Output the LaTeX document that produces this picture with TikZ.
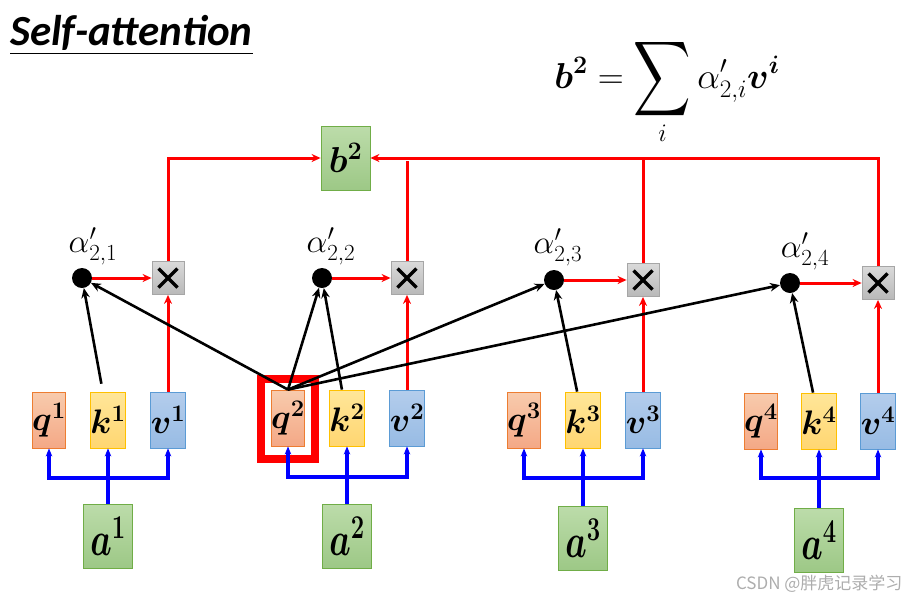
\documentclass[tikz,border=0pt]{standalone}
\usepackage{fix-cm}
\usepackage{exscale}
\usepackage{amsmath}
\usepackage{fontspec}
\setsansfont{Carlito}
\newfontfamily\cjkfont{Noto Sans CJK SC}
\usetikzlibrary{arrows.meta, positioning}

\definecolor{qtop}{HTML}{F8CBAD}
\definecolor{qbot}{HTML}{F4A886}
\definecolor{qline}{HTML}{ED7D31}
\definecolor{ktop}{HTML}{FFE699}
\definecolor{kbot}{HTML}{FFD671}
\definecolor{kline}{HTML}{FFC000}
\definecolor{vtop}{HTML}{B4CDEC}
\definecolor{vbot}{HTML}{97BBE4}
\definecolor{vline}{HTML}{5B9BD5}
\definecolor{gtop}{HTML}{BCDCAA}
\definecolor{gbot}{HTML}{9DC886}
\definecolor{gline}{HTML}{70AD47}
\definecolor{mtop}{HTML}{D9D9D9}
\definecolor{mbot}{HTML}{B8B8B8}
\definecolor{mline}{HTML}{A6A6A6}

\tikzset{
	box/.style={inner sep=0pt, line width=0.8pt},
	qbox/.style={box, draw=qline, top color=qtop, bottom color=qbot, minimum width=30pt, minimum height=56pt},
	kbox/.style={box, draw=kline, top color=ktop, bottom color=kbot, minimum width=30pt, minimum height=56pt},
	vbox/.style={box, draw=vline, top color=vtop, bottom color=vbot, minimum width=30pt, minimum height=56pt},
	gbox/.style={box, draw=gline, top color=gtop, bottom color=gbot, minimum width=49pt, minimum height=64pt},
	mbox/.style={box, draw=mline, top color=mtop, bottom color=mbot, minimum width=32pt, minimum height=33pt,
		path picture={
			\draw[black, line width=3.4pt] ([shift={(-9.5pt,-9.5pt)}]path picture bounding box.center) -- ([shift={(9.5pt,9.5pt)}]path picture bounding box.center);
			\draw[black, line width=3.4pt] ([shift={(-9.5pt,9.5pt)}]path picture bounding box.center) -- ([shift={(9.5pt,-9.5pt)}]path picture bounding box.center);
		}},
	dot/.style={circle, fill=black, inner sep=0pt, minimum size=20pt},
	redarr/.style={red, line width=3pt, -{Stealth[length=9pt,width=8pt]}},
	redline/.style={red, line width=3pt},
	blackarr/.style={black, line width=2.6pt, -{Stealth[length=10pt,width=8.5pt]}},
	bluearr/.style={blue, line width=3.2pt, -{Stealth[length=8pt,width=6.5pt]}},
	bluebus/.style={blue, line width=3.2pt, {Stealth[length=8pt,width=6.5pt]}-{Stealth[length=8pt,width=6.5pt]}}
}

\newcommand{\qkvfont}{\fontsize{34}{36}\selectfont}
\newcommand{\alfont}{\fontsize{33}{35}\selectfont}
\newcommand{\bigsum}{\mathop{\vcenter{\hbox{\scalebox{1.6}[2.1]{$\displaystyle\sum$}}}}\limits}

\begin{document}
\begin{tikzpicture}[x=1pt,y=-1pt]
	\useasboundingbox (0,0) rectangle (920,603);

	\node[anchor=base west, inner sep=0pt, font=\sffamily\bfseries\itshape\fontsize{43}{46}\selectfont] (title) at (10,45) {\underline{Self-attention}};
	\node[inner sep=0pt, font=\fontsize{36}{40}\selectfont] (sum) at (667,91) {$\displaystyle \boldsymbol{b^2}=\bigsum_i\alpha'_{2,i}\boldsymbol{v^i}$};

	\node[gbox, font=\fontsize{36}{38}\selectfont] (b2) at (345.5,158) {$\boldsymbol{b^2}$};

	% weights and products
	\node[dot] (d1) at (82,278) {};
	\node[dot] (d2) at (322,278) {};
	\node[dot] (d3) at (554,280) {};
	\node[dot] (d4) at (790,283) {};
	\node[font=\alfont] (l1) at (93,246) {$\alpha'_{2,1}$};
	\node[font=\alfont] (l2) at (331,246) {$\alpha'_{2,2}$};
	\node[font=\alfont] (l3) at (558,247) {$\alpha'_{2,3}$};
	\node[font=\alfont] (l4) at (805,251) {$\alpha'_{2,4}$};
	\node[mbox] (m1) at (168,278) {};
	\node[mbox] (m2) at (407,278) {};
	\node[mbox] (m3) at (643,280) {};
	\node[mbox] (m4) at (878,283) {};

	% q k v
	\node[qbox, font=\qkvfont] (q1) at (49,420) {$\boldsymbol{q^1}$};
	\node[kbox, font=\qkvfont] (k1) at (108,420) {$\boldsymbol{k^1}$};
	\node[vbox, font=\qkvfont] (v1) at (168,420) {$\boldsymbol{v^1}$};
	\node[qbox, font=\qkvfont] (q2) at (288,418) {$\boldsymbol{q^2}$};
	\node[kbox, font=\qkvfont] (k2) at (347,418) {$\boldsymbol{k^2}$};
	\node[vbox, font=\qkvfont] (v2) at (407,418) {$\boldsymbol{v^2}$};
	\node[qbox, font=\qkvfont] (q3) at (524,420) {$\boldsymbol{q^3}$};
	\node[kbox, font=\qkvfont] (k3) at (583,420) {$\boldsymbol{k^3}$};
	\node[vbox, font=\qkvfont] (v3) at (643,420) {$\boldsymbol{v^3}$};
	\node[qbox, font=\qkvfont] (q4) at (761,421) {$\boldsymbol{q^4}$};
	\node[kbox, font=\qkvfont] (k4) at (819,421) {$\boldsymbol{k^4}$};
	\node[vbox, font=\qkvfont] (v4) at (878,421) {$\boldsymbol{v^4}$};
	\node[draw=red, line width=7.5pt, minimum width=54pt, minimum height=80pt, inner sep=0pt] (hl) at (288,419) {};

	% inputs
	\node[gbox, font=\fontsize{34}{36}\selectfont] (a1) at (108,536) {\scalebox{1}[1.4]{$\boldsymbol{a^1}$}};
	\node[gbox, font=\fontsize{34}{36}\selectfont] (a2) at (347,536) {\scalebox{1}[1.4]{$\boldsymbol{a^2}$}};
	\node[gbox, font=\fontsize{34}{36}\selectfont] (a3) at (583,538) {\scalebox{1}[1.4]{$\boldsymbol{a^3}$}};
	\node[gbox, font=\fontsize{34}{36}\selectfont] (a4) at (819,540) {\scalebox{1}[1.4]{$\boldsymbol{a^4}$}};
	\coordinate (j1) at (108,478);
	\coordinate (j2) at (347,477);
	\coordinate (j3) at (583,478);
	\coordinate (j4) at (819,478);
	\coordinate (m2top) at (407,161);

	\node[anchor=east, text=black!32, font=\cjkfont\fontsize{17}{18}\selectfont] (mark) at (906,584) {CSDN @胖虎记录学习};

	% blue
	\draw[bluearr] (a1) -- (k1);
	\draw[bluearr] (a2) -- (k2);
	\draw[bluearr] (a3) -- (k3);
	\draw[bluearr] (a4) -- (k4);
	\draw[bluebus] (q1.south) |- (j1) -| (v1.south);
	\draw[bluebus] (q2.south) |- (j2) -| (v2.south);
	\draw[bluebus] (q3.south) |- (j3) -| (v3.south);
	\draw[bluebus] (q4.south) |- (j4) -| (v4.south);

	% red
	\draw[redarr] (d1) -- (m1);
	\draw[redarr] (d2) -- (m2);
	\draw[redarr] (d3) -- (m3);
	\draw[redarr] (d4) -- (m4);
	\draw[redarr] (v1) -- (m1);
	\draw[redarr] (v2) -- (m2);
	\draw[redarr] (v3) -- (m3);
	\draw[redarr] (v4) -- (m4);
	\draw[redarr] (m1) |- (b2);
	\draw[redarr] (m4) |- (b2);
	\draw[redline] (m3) -- (m3 |- b2);
	\draw[redline] (m2) -- (m2top);

	% black
	\draw[blackarr, shorten <=8pt] (k1) -- (d1);
	\draw[blackarr] (q2.north) -- (d1);
	\draw[blackarr] (q2.north) -- (d2);
	\draw[blackarr] (k2) -- (d2);
	\draw[blackarr] (q2.north) -- (d3);
	\draw[blackarr] (k3) -- (d3);
	\draw[blackarr] (q2.north) -- (d4);
	\draw[blackarr] (k4) -- (d4);
\end{tikzpicture}
\end{document}
